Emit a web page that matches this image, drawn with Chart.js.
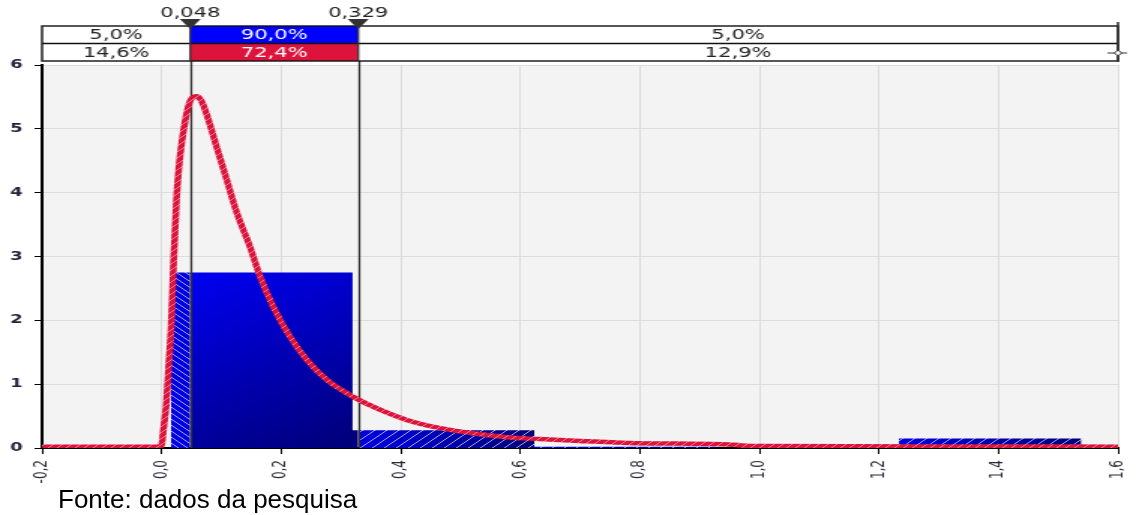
<!DOCTYPE html>
<html>
<head>
<meta charset="utf-8">
<script src="https://cdn.jsdelivr.net/npm/chart.js@4.4.1/dist/chart.umd.min.js"></script>
<style>
  html, body { margin: 0; padding: 0; background: #fff; }
  #wrap { position: relative; width: 1136px; height: 515px; overflow: hidden; }
  #chart { position: absolute; left: 0; top: 0; }
  #fonte { position: absolute; left: 58px; top: 486px; font: 26px "Liberation Sans", Arial, sans-serif;
           line-height: 26px; color: #000; white-space: nowrap; }
</style>
</head>
<body>
<div id="wrap">
  <!-- drawn at 757 px wide and stretched, like the original picture -->
  <canvas id="chart" width="757" height="515" style="width:1136px;height:515px"></canvas>
  <div id="fonte">Fonte: dados da pesquisa</div>
</div>
<script>
// density curve (fitted distribution)
const curveX = [-0.2, -0.1, -0.005, 0.0, 0.003, 0.008, 0.012, 0.016, 0.020, 0.025,
                0.029, 0.034, 0.040, 0.047, 0.058, 0.066, 0.075, 0.092, 0.109, 0.126,
                0.148, 0.165, 0.187, 0.215, 0.243, 0.276, 0.321, 0.365, 0.41, 0.466,
                0.521, 0.577, 0.633, 0.70, 0.783, 0.86, 0.94, 0.97, 1.0, 1.3, 1.6];
const curveY = [0.02, 0.02, 0.02, 0.05, 0.28, 0.7, 1.3, 1.9, 2.9, 3.9,
                4.4, 4.8, 5.15, 5.42, 5.51, 5.45, 5.24, 4.72, 4.2, 3.68,
                3.15, 2.68, 2.21, 1.74, 1.38, 1.07, 0.80, 0.60, 0.44, 0.31,
                0.23, 0.17, 0.14, 0.11, 0.08, 0.07, 0.06, 0.04, 0.03, 0.025, 0.02];

// histogram of the simulated values
const binEdges = [0.0155, 0.3195, 0.6235, 0.9275, 1.2335, 1.539];
const binHeights = [2.75, 0.28, 0.02, 0, 0.15];

// delimiters and the percentages of the header bands
const markers = [0.048, 0.329];
const topPct = [5.0, 90.0, 5.0];
const botPct = [14.6, 72.4, 12.9];

const xMin = -0.2, xMax = 1.6, xStep = 0.2;
const yMin = 0, yMax = 6, yStep = 1;

function fmt(v, d) {
  const n = Math.abs(v) < 1e-9 ? 0 : v;
  return n.toFixed(d).replace('.', ',');
}

// histogram part between a and b, as stepped points
function clipBins(a, b) {
  const pts = [];
  let lastR = null;
  for (let i = 0; i < binHeights.length; i++) {
    const l = Math.max(binEdges[i], a), r = Math.min(binEdges[i + 1], b);
    if (l < r) { pts.push({ x: l, y: binHeights[i] }); lastR = r; }
  }
  if (lastR !== null) pts.push({ x: lastR, y: 0 });
  return pts;
}

function curvePattern(context) {
  const c = document.createElement('canvas');
  c.width = 6; c.height = 6;
  const g = c.getContext('2d');
  g.fillStyle = '#dc143c';
  g.fillRect(0, 0, 6, 6);
  g.strokeStyle = 'rgba(255,255,255,0.55)';
  g.lineWidth = 0.8;
  g.beginPath(); g.moveTo(0, 6); g.lineTo(6, 0); g.stroke();
  return context.chart.ctx.createPattern(c, 'repeat');
}

function solidFill(context) {
  const chart = context.chart;
  const area = chart.chartArea;
  if (!area) return '#0000c0';
  const xs = chart.scales.x, ys = chart.scales.y;
  const l = xs.getPixelForValue(markers[0]);
  const r = xs.getPixelForValue(binEdges[1]);
  const t = ys.getPixelForValue(binHeights[0]);
  const grad = chart.ctx.createLinearGradient(l, t, r, area.bottom);
  grad.addColorStop(0, '#0000f2');
  grad.addColorStop(1, '#000078');
  return grad;
}

function tailFill(context) {
  const chart = context.chart;
  const area = chart.chartArea;
  if (!area) return '#0000c0';
  const xs = chart.scales.x;
  const c = document.createElement('canvas');
  c.width = chart.width; c.height = chart.height;
  const g = c.getContext('2d');
  for (let i = 0; i < binHeights.length; i++) {
    const l = xs.getPixelForValue(binEdges[i]), r = xs.getPixelForValue(binEdges[i + 1]);
    const grad = g.createLinearGradient(l, 0, r, 0);
    grad.addColorStop(0, '#0000e6');
    grad.addColorStop(1, '#00007a');
    g.fillStyle = grad;
    g.fillRect(l, 0, r - l, c.height);
  }
  const lo = xs.getPixelForValue(markers[0]), hi = xs.getPixelForValue(markers[1]);
  g.strokeStyle = 'rgba(255,255,255,0.8)';
  g.lineWidth = 0.8;
  // "\" hatch on the left tail
  g.save();
  g.beginPath(); g.rect(0, 0, lo, c.height); g.clip();
  g.beginPath();
  for (let k = -c.height; k < c.width; k += 6) { g.moveTo(k, 0); g.lineTo(k + c.height, c.height); }
  g.stroke();
  g.restore();
  // "/" hatch on the right tail
  g.save();
  g.beginPath(); g.rect(hi, 0, c.width - hi, c.height); g.clip();
  g.beginPath();
  for (let k = 0; k < c.width + c.height; k += 8) { g.moveTo(k, 0); g.lineTo(k - c.height, c.height); }
  g.stroke();
  g.restore();
  return chart.ctx.createPattern(c, 'no-repeat');
}

const header = {
  id: 'header',
  beforeDraw(chart) {
    const { ctx, chartArea: a } = chart;
    ctx.save();
    ctx.fillStyle = '#f3f3f3';
    ctx.fillRect(a.left, a.top, a.right - a.left, a.bottom - a.top);
    ctx.restore();
  },
  beforeDatasetDraw(chart, args) {
    if (args.index !== 0) return;
    const { ctx, chartArea: a } = chart;
    const xs = chart.scales.x;
    ctx.save();
    ctx.strokeStyle = '#333';
    ctx.lineWidth = 1.3;
    markers.forEach(m => {
      const px = Math.round(xs.getPixelForValue(m)) + 0.5;
      ctx.beginPath(); ctx.moveTo(px, 26); ctx.lineTo(px, a.bottom); ctx.stroke();
    });
    ctx.restore();
  },
  afterDraw(chart) {
    const { ctx, chartArea: a } = chart;
    const xs = chart.scales.x;
    const lo = xs.getPixelForValue(markers[0]), hi = xs.getPixelForValue(markers[1]);
    const r1 = 26, r2 = 43.5, r3 = 61;
    ctx.save();
    ctx.fillStyle = '#fff';
    ctx.fillRect(a.left, r1, a.right - a.left, r3 - r1);
    ctx.fillStyle = '#0000ff';
    ctx.fillRect(lo, r1, hi - lo, r2 - r1);
    ctx.fillStyle = '#dc143c';
    ctx.fillRect(lo, r2, hi - lo, r3 - r2);

    ctx.strokeStyle = '#111';
    ctx.lineWidth = 1.4;
    ctx.strokeRect(a.left, r1, a.right - a.left, r3 - r1);
    ctx.beginPath(); ctx.moveTo(a.left, r2); ctx.lineTo(a.right, r2); ctx.stroke();
    ctx.strokeStyle = '#333';
    ctx.lineWidth = 1.3;
    [lo, hi].forEach(px => {
      ctx.beginPath(); ctx.moveTo(px, r1); ctx.lineTo(px, r3); ctx.stroke();
    });

    // percentages
    const bounds = [a.left, lo, hi, a.right];
    ctx.font = '14px "DejaVu Sans"';
    ctx.textAlign = 'center';
    ctx.textBaseline = 'middle';
    for (let i = 0; i < 3; i++) {
      const cx = (bounds[i] + bounds[i + 1]) / 2;
      ctx.fillStyle = i === 1 ? '#fff' : '#222';
      ctx.fillText(fmt(topPct[i], 1) + '%', cx, (r1 + r2) / 2 + 1);
      ctx.fillText(fmt(botPct[i], 1) + '%', cx, (r2 + r3) / 2 + 1);
    }

    // delimiter handles and values
    ctx.fillStyle = '#333';
    [lo, hi].forEach(px => {
      ctx.beginPath();
      ctx.moveTo(px - 7, 19); ctx.lineTo(px + 7, 19); ctx.lineTo(px, 29);
      ctx.closePath(); ctx.fill();
    });
    ctx.font = '14px "DejaVu Sans"';
    ctx.textBaseline = 'alphabetic';
    ctx.fillStyle = '#222';
    markers.forEach((m, i) => {
      ctx.fillText(fmt(m, 3), [lo, hi][i], 17);
    });

    // right end handle
    ctx.strokeStyle = '#333';
    ctx.lineWidth = 1.6;
    ctx.beginPath(); ctx.moveTo(a.right, 22); ctx.lineTo(a.right, r3 + 1); ctx.stroke();
    ctx.lineWidth = 1;
    ctx.beginPath(); ctx.moveTo(a.right - 7, 53); ctx.lineTo(a.right + 6, 53); ctx.stroke();
    ctx.beginPath();
    ctx.moveTo(a.right, 50); ctx.lineTo(a.right + 2.5, 53); ctx.lineTo(a.right, 56); ctx.lineTo(a.right - 2.5, 53);
    ctx.closePath(); ctx.fillStyle = '#fff'; ctx.fill(); ctx.stroke();
    ctx.restore();
  }
};

const barDefaults = {
  stepped: 'before',
  fill: 'origin',
  borderWidth: 0,
  borderColor: 'transparent',
  pointRadius: 0
};

new Chart(document.getElementById('chart'), {
  type: 'line',
  data: {
    datasets: [
      {
        label: 'densidade',
        data: curveX.map((x, i) => ({ x: x, y: curveY[i] })),
        borderColor: curvePattern,
        borderWidth: 4.5,
        pointRadius: 0,
        cubicInterpolationMode: 'monotone',
        fill: false
      },
      Object.assign({ label: 'centro', data: clipBins(markers[0], markers[1]), backgroundColor: solidFill }, barDefaults),
      Object.assign({ label: 'cauda esq', data: clipBins(-Infinity, markers[0]), backgroundColor: tailFill }, barDefaults),
      Object.assign({ label: 'cauda dir', data: clipBins(markers[1], Infinity), backgroundColor: tailFill }, barDefaults)
    ]
  },
  options: {
    responsive: false,
    devicePixelRatio: 1,
    animation: false,
    events: [],
    layout: { padding: { top: 65, right: 12, left: 0, bottom: 0 } },
    plugins: { legend: { display: false }, tooltip: { enabled: false } },
    scales: {
      x: {
        type: 'linear',
        min: xMin,
        max: xMax,
        afterFit: s => { s.height = 67; s.paddingLeft = 0; s.paddingRight = 0; },
        ticks: {
          stepSize: xStep,
          autoSkip: false,
          minRotation: 90,
          maxRotation: 90,
          padding: 6,
          color: '#2a2a3a',
          font: { family: '"DejaVu Sans"', size: 12 },
          callback: v => fmt(v, 1)
        },
        grid: { color: '#dcdcdc', tickColor: '#000', tickLength: 6 },
        border: { color: '#000', width: 2 }
      },
      y: {
        min: yMin,
        max: yMax,
        afterFit: s => { s.width = 28; },
        ticks: {
          stepSize: yStep,
          padding: 8,
          color: '#22223a',
          font: { family: '"DejaVu Sans"', size: 12, weight: 'bold' }
        },
        grid: { color: '#dcdcdc', tickColor: '#000', tickLength: 5 },
        border: { color: '#000', width: 2 }
      }
    }
  },
  plugins: [header]
});
</script>
</body>
</html>
